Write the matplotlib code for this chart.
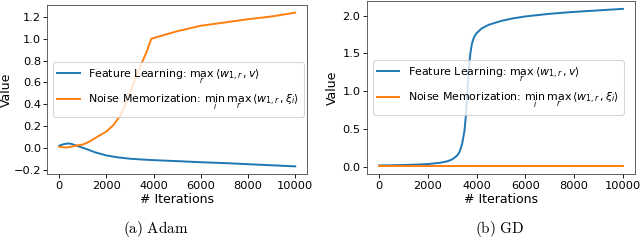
import matplotlib
matplotlib.use("Agg")
import matplotlib.pyplot as plt

plt.rcParams['mathtext.fontset'] = 'dejavusans'

# Adam run
adam_iters = [0, 100, 200, 300, 400, 500, 600, 800, 1000, 1200, 1500, 2000, 2500, 3000,
              3500, 4000, 5000, 6000, 7000, 8000, 9000, 10000]
adam_feature = [0.02, 0.028, 0.034, 0.038, 0.04, 0.037, 0.03, 0.015, 0.0, -0.015, -0.04,
                -0.07, -0.088, -0.1, -0.107, -0.113, -0.122, -0.132, -0.14, -0.15, -0.16, -0.17]
adam_noise_iters = [0, 150, 300, 500, 700, 1000, 1300, 1600, 2000, 2300, 2600, 2900, 3200,
                    3500, 3700, 3900, 4200, 4600, 5000, 5500, 6000, 7000, 8000, 9000, 10000]
adam_noise = [0.01, 0.005, 0.003, 0.01, 0.02, 0.03, 0.06, 0.1, 0.15, 0.21, 0.3, 0.45, 0.62,
              0.78, 0.88, 1.0, 1.02, 1.045, 1.07, 1.095, 1.12, 1.15, 1.18, 1.205, 1.24]

# GD run
gd_iters = [0, 500, 1000, 1500, 2000, 2500, 2800, 3000, 3200, 3300, 3400, 3500, 3550, 3600,
            3650, 3700, 3750, 3800, 3850, 3900, 4000, 4200, 4500, 5000, 5500, 6000, 7000,
            8000, 9000, 10000]
gd_feature = [0.02, 0.022, 0.026, 0.031, 0.038, 0.055, 0.075, 0.1, 0.15, 0.2, 0.3, 0.48,
              0.65, 0.9, 1.15, 1.38, 1.52, 1.62, 1.68, 1.72, 1.77, 1.83, 1.88, 1.93, 1.965,
              1.99, 2.025, 2.05, 2.07, 2.09]
gd_noise_iters = [0, 10000]
gd_noise = [0.01, 0.01]

feat_label = r'Feature Learning: $\max_r\,\langle w_{1,r}, v\rangle$'
noise_label = r'Noise Memorization: $\min_i\,\max_r\,\langle w_{1,r}, \xi_i\rangle$'

# rendered at a low dpi so the default sizes shrink like in the original
fig = plt.figure(figsize=(640 / 78, 249 / 78), dpi=78)

ax1 = fig.add_axes([0.0742, 0.301, 0.4055, 0.679])
ax1.plot(adam_iters, adam_feature, color='tab:blue', lw=1.8, label=feat_label)
ax1.plot(adam_noise_iters, adam_noise, color='tab:orange', lw=1.8, label=noise_label)
ax1.set_yticks([-0.2, 0.0, 0.2, 0.4, 0.6, 0.8, 1.0, 1.2])
ax1.set_xticks([0, 2000, 4000, 6000, 8000, 10000])

ax2 = fig.add_axes([0.5734, 0.301, 0.419, 0.695])
ax2.plot(gd_iters, gd_feature, color='tab:blue', lw=1.8, label=feat_label)
ax2.plot(gd_noise_iters, gd_noise, color='tab:orange', lw=1.8, label=noise_label)
ax2.set_yticks([0.0, 0.5, 1.0, 1.5, 2.0])
ax2.set_xticks([0, 2000, 4000, 6000, 8000, 10000])

for ax in (ax1, ax2):
    ax.set_xlabel('# Iterations', fontsize=11.5, labelpad=2)
    ax.set_ylabel('Value', fontsize=11.5)
    ax.tick_params(labelsize=10.5, pad=2.5)
    for s in ax.spines.values():
        s.set_edgecolor('0.3')
    ax.legend(loc='center left', fontsize=10.2, labelspacing=0.6)

ax1.yaxis.set_label_coords(-0.135, 0.5)
ax2.yaxis.set_label_coords(-0.106, 0.5)

fig.text(0.244, 0.08, r'$\mathrm{(a)\ Adam}$', ha='center', va='center', fontsize=14,
         math_fontfamily='cm')
fig.text(0.78, 0.08, r'$\mathrm{(b)\ GD}$', ha='center', va='center', fontsize=14,
         math_fontfamily='cm')

fig.savefig('out.png', dpi=78)
